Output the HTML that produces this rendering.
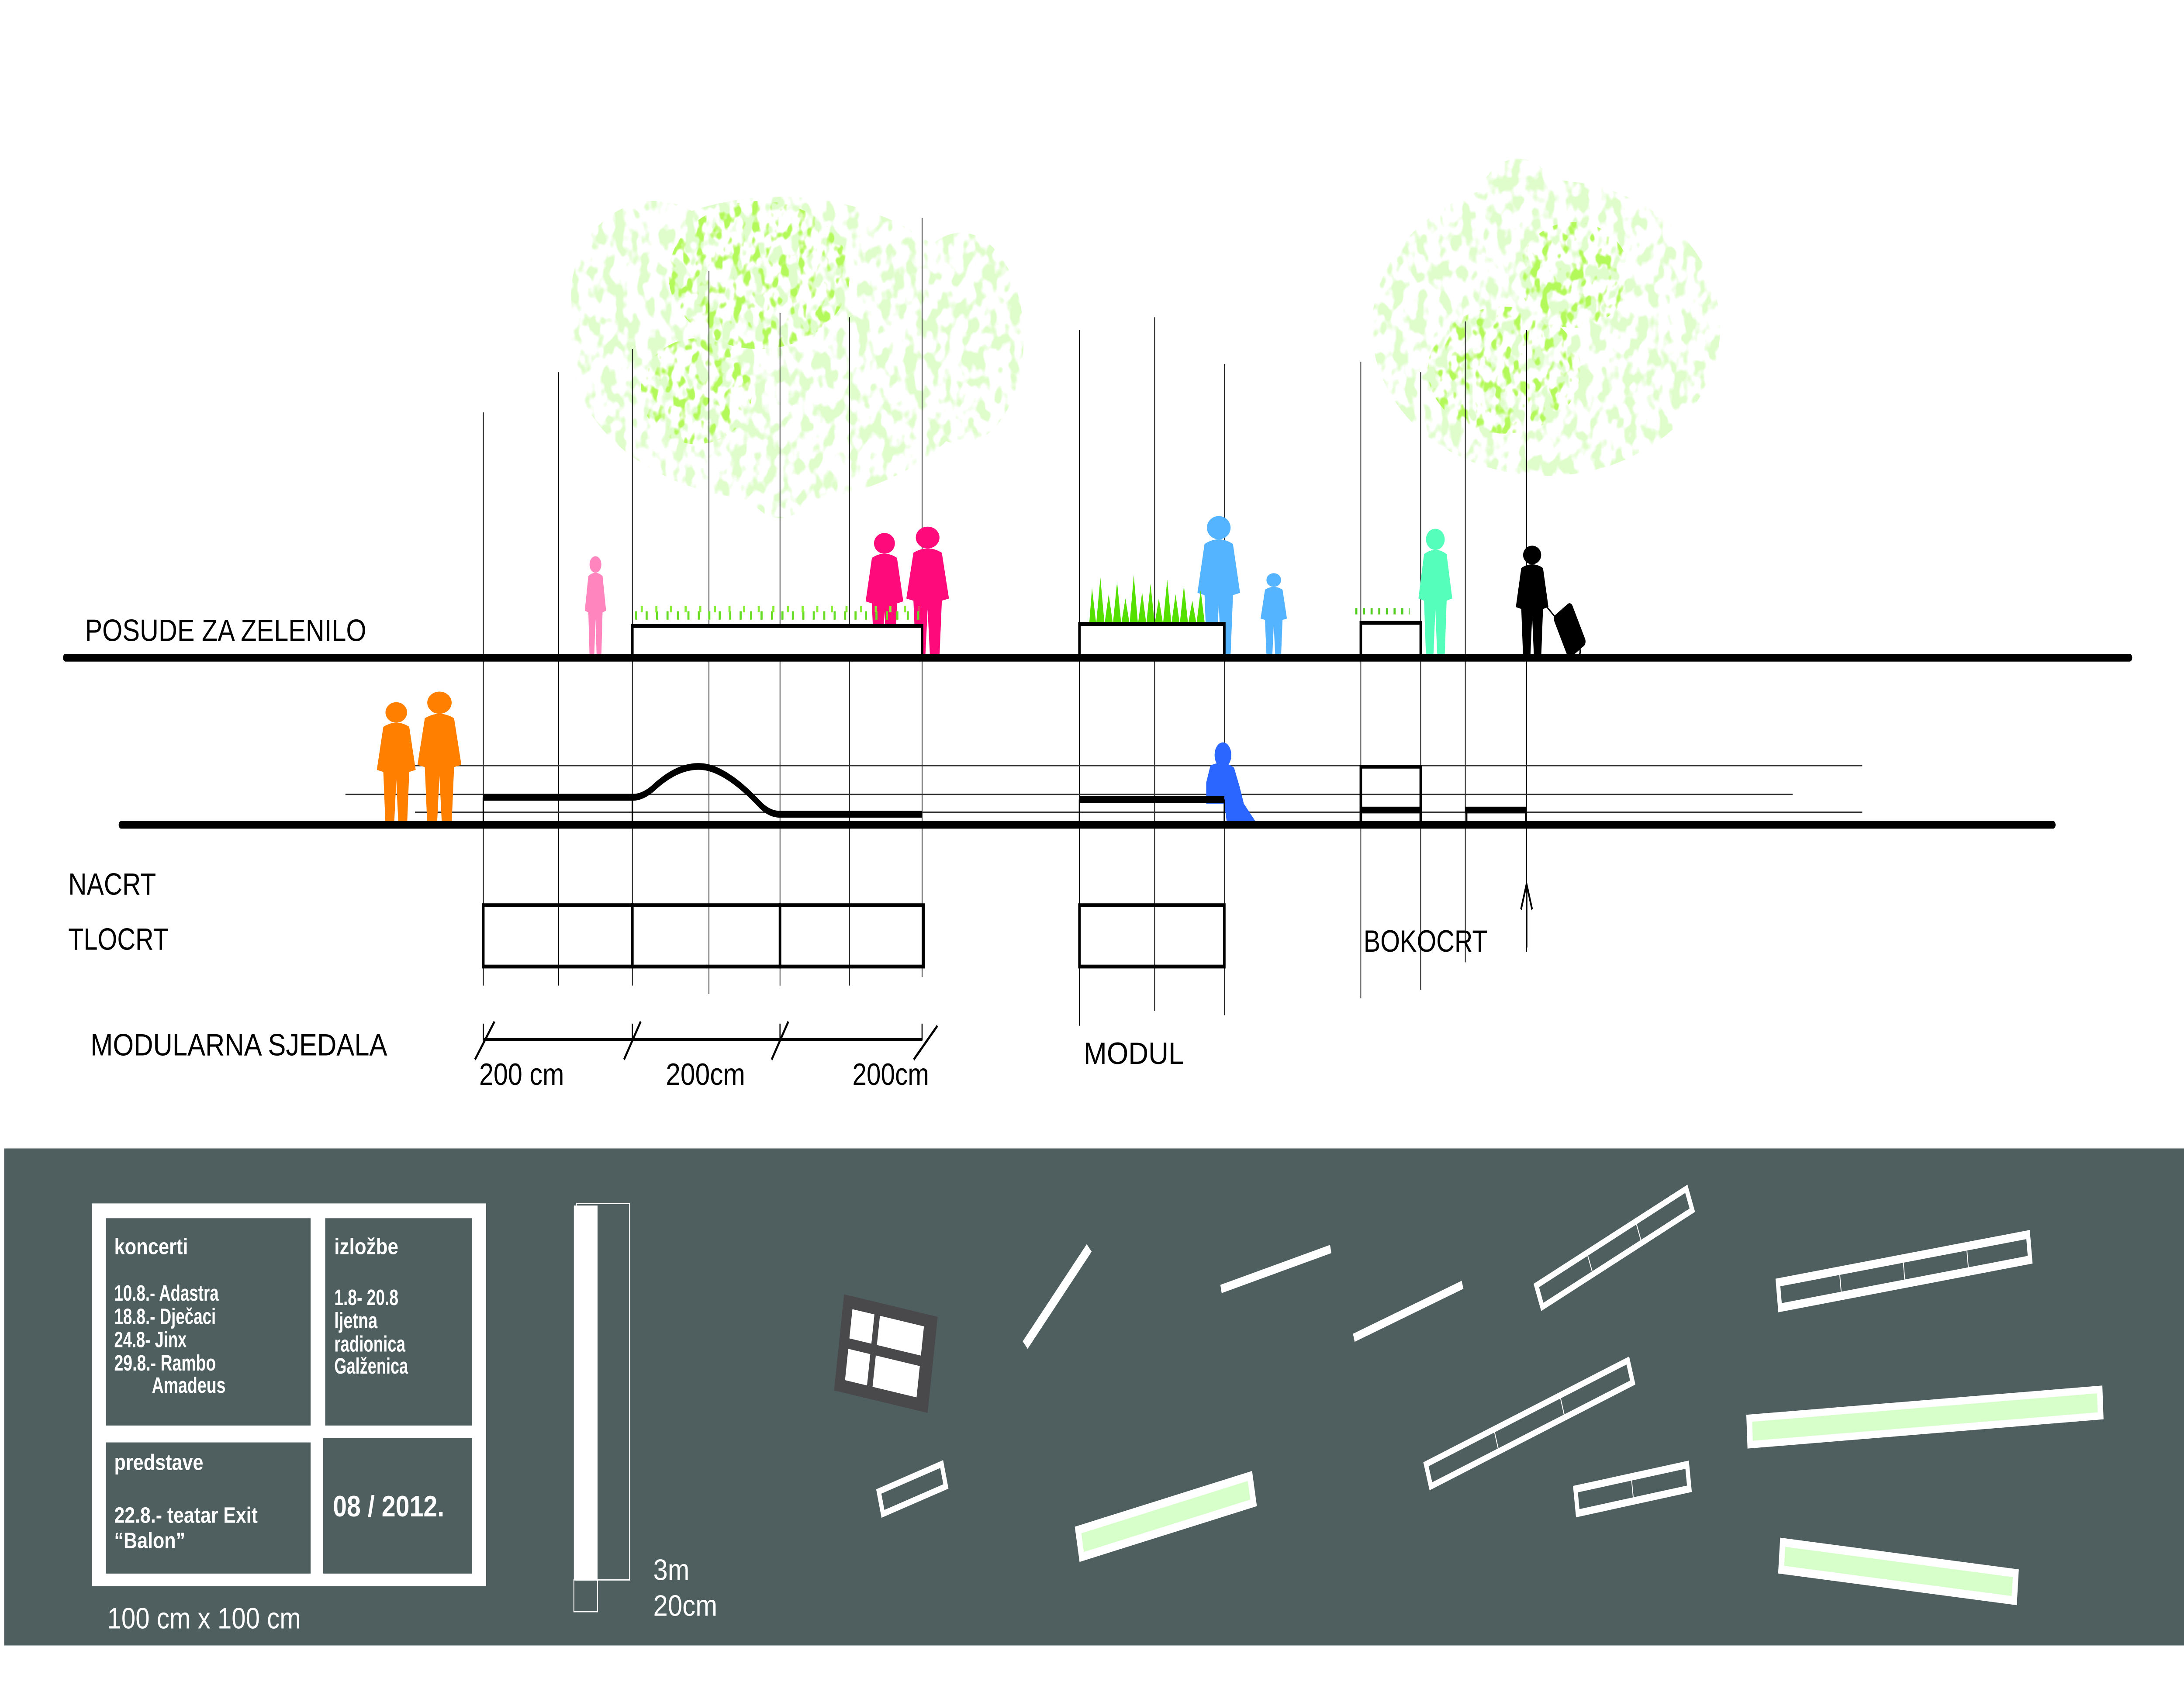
<!DOCTYPE html>
<html><head><meta charset="utf-8"><style>
html,body{margin:0;padding:0;background:#fff;width:100%;height:100%;overflow:hidden;}
svg{display:block;width:100vw;height:100vh;}
text{font-family:"Liberation Sans Narrow","Liberation Sans",sans-serif;}
</style></head><body>
<svg viewBox="0 0 1568 800" preserveAspectRatio="none" xmlns="http://www.w3.org/2000/svg">
<defs>
<filter id="leafL" x="-5%" y="-5%" width="110%" height="110%">
<feTurbulence type="fractalNoise" baseFrequency="0.12" numOctaves="2" seed="4" result="n"/>
<feColorMatrix in="n" type="matrix" values="0 0 0 0 0.74  0 0 0 0 0.98  0 0 0 0 0.6  9 0 0 0 -4.5" result="m"/>
<feComposite in="m" in2="SourceGraphic" operator="in"/>
</filter>
<filter id="leafD" x="-5%" y="-5%" width="110%" height="110%">
<feTurbulence type="fractalNoise" baseFrequency="0.15" numOctaves="2" seed="9" result="n"/>
<feColorMatrix in="n" type="matrix" values="0 0 0 0 0.45  0 0 0 0 0.95  0 0 0 0 0.1  8 0 0 0 -4.3" result="m"/>
<feComposite in="m" in2="SourceGraphic" operator="in"/>
</filter>
<g id="adult"><circle cx="10" cy="5" r="5"/><path d="M4,12 Q10,8 16,12 L19,33 L16,34 L15,60 L11,60 L10,38 L9,60 L5,60 L4,34 L1,33 Z"/></g>
</defs>

<g filter="url(#leafL)" fill="#000">
<ellipse cx="560" cy="165" rx="150" ry="72"/>
<ellipse cx="470" cy="140" rx="60" ry="45"/>
<ellipse cx="690" cy="160" rx="45" ry="50"/>
<ellipse cx="560" cy="215" rx="30" ry="30"/>
<ellipse cx="1110" cy="155" rx="125" ry="70"/>
<ellipse cx="1090" cy="100" rx="30" ry="25"/>
</g>
<g filter="url(#leafD)" fill="#000">
<ellipse cx="545" cy="130" rx="65" ry="35"/>
<ellipse cx="500" cy="185" rx="40" ry="25"/>
<ellipse cx="1080" cy="175" rx="55" ry="30"/>
<ellipse cx="1130" cy="130" rx="40" ry="25"/>
</g>

<g stroke="#000" stroke-width="0.55">
<line x1="347" y1="195" x2="347" y2="466"/>
<line x1="401" y1="176" x2="401" y2="466"/>
<line x1="454" y1="165" x2="454" y2="466"/>
<line x1="509" y1="128" x2="509" y2="470"/>
<line x1="560" y1="148" x2="560" y2="466"/>
<line x1="610" y1="150" x2="610" y2="466"/>
<line x1="662" y1="103" x2="662" y2="462"/>
<line x1="775" y1="156" x2="775" y2="485"/>
<line x1="829" y1="150" x2="829" y2="478"/>
<line x1="879" y1="172" x2="879" y2="480"/>
<line x1="977" y1="171" x2="977" y2="472"/>
<line x1="1020" y1="176" x2="1020" y2="468"/>
<line x1="1052" y1="152" x2="1052" y2="455"/>
<line x1="1096" y1="156" x2="1096" y2="450"/>
</g>
<g stroke="#333" stroke-width="0.6">
<line x1="298" y1="362" x2="1337" y2="362"/>
<line x1="248" y1="375.6" x2="1287" y2="375.6"/>
<line x1="298" y1="384" x2="1337" y2="384"/>
</g>

<use href="#adult" fill="#ff85bf" transform="translate(419,263) scale(0.85,0.78)"/>
<use href="#adult" fill="#ff0a7a" transform="translate(620,252) scale(1.5,0.98)"/>
<use href="#adult" fill="#ff0a7a" transform="translate(649,249) scale(1.7,1.03)"/>
<use href="#adult" fill="#ff8000" transform="translate(269,332) scale(1.55,0.97)"/>
<use href="#adult" fill="#ff8000" transform="translate(298,327) scale(1.75,1.05)"/>
<use href="#adult" fill="#55b4ff" transform="translate(858,244) scale(1.7,1.1)"/>
<use href="#adult" fill="#55b4ff" transform="translate(904,271) scale(1.05,0.65)"/>
<use href="#adult" fill="#55ffbb" transform="translate(1017,250) scale(1.35,1)"/>
<use href="#adult" fill="#000" transform="translate(1087,258) scale(1.3,0.88)"/>
<g fill="#000" stroke="#000">
<rect x="1120" y="287" width="14" height="22" rx="2" transform="rotate(-30 1127 298)"/>
<line x1="1108" y1="285" x2="1122" y2="296" stroke-width="0.8"/>
<circle cx="1132" cy="308" r="2.5" fill="none" stroke-width="1"/>
</g>
<g fill="#2a66ff">
<circle cx="878" cy="357" r="6"/>
<path d="M869,362 Q878,359 886,363 L890,372 L893,380 L901,388 L900,390 L881,390 L879,380 L866,380 L866,370 Z"/>
</g>

<path fill="#55e000" d="M782,295 L784,278 L787,295 L790,273 L793,295 L796,281 L799,295 L802,275 L805,295 L808,283 L811,295 L814,272 L817,295 L820,280 L823,295 L826,276 L829,295 L832,283 L835,295 L838,274 L841,295 L844,281 L847,295 L850,277 L853,295 L856,284 L859,295 L862,279 L865,295 Z"/>
<line x1="456" y1="291" x2="660" y2="291" stroke="#66dd22" stroke-width="4" stroke-dasharray="1.5 6"/>
<line x1="460" y1="288" x2="660" y2="288" stroke="#88ee33" stroke-width="3" stroke-dasharray="1.5 9"/>
<line x1="973" y1="289" x2="1012" y2="289" stroke="#55cc22" stroke-width="3" stroke-dasharray="1.5 4"/>

<g fill="#fff" stroke="#000" stroke-width="1.8">
<rect x="454" y="296" width="208" height="15"/>
<rect x="775" y="295" width="104" height="16"/>
<rect x="977" y="294.5" width="43" height="16"/>
</g>

<g stroke="#000" stroke-width="3.6" stroke-linecap="round">
<line x1="47" y1="311" x2="1529" y2="311"/>
<line x1="87" y1="390" x2="1474" y2="390"/>
</g>

<g fill="none" stroke="#000">
<path d="M347,377 L454,377 Q462,377 470,372 Q490,360 509,363 Q525,366 545,380 Q552,385 560,385 L662,385" stroke-width="3.2"/>
<line x1="347" y1="377" x2="347" y2="390" stroke-width="1"/>
<line x1="454" y1="377" x2="454" y2="390" stroke-width="1"/>
<line x1="775" y1="378" x2="879" y2="378" stroke-width="3.2"/>
<line x1="775" y1="378" x2="775" y2="390" stroke-width="1"/>
<line x1="879" y1="378" x2="879" y2="390" stroke-width="1"/>
<rect x="977" y="362.5" width="43" height="27" stroke-width="1.8"/>
<line x1="977" y1="383" x2="1020" y2="383" stroke-width="3.2"/>
<line x1="1052" y1="383" x2="1096" y2="383" stroke-width="3.2"/>
<line x1="1053" y1="383" x2="1053" y2="390" stroke-width="1"/>
<line x1="1095.5" y1="383" x2="1095.5" y2="390" stroke-width="1"/>
</g>

<g fill="none" stroke="#000" stroke-width="1.8">
<rect x="347" y="428" width="107" height="29"/>
<rect x="454" y="428" width="106" height="29"/>
<rect x="560" y="428" width="103" height="29"/>
<rect x="775" y="428" width="104" height="29"/>
</g>
<g stroke="#000" stroke-width="1.3">
<line x1="347" y1="491.5" x2="662" y2="491.5"/>
<line x1="341" y1="501" x2="355" y2="483"/>
<line x1="448" y1="501" x2="460" y2="483"/>
<line x1="554" y1="501" x2="566" y2="483"/>
<line x1="656" y1="501" x2="673" y2="485"/>
<line x1="347" y1="484" x2="347" y2="492" stroke-width="0.8"/>
<line x1="454" y1="484" x2="454" y2="492" stroke-width="0.8"/>
<line x1="560" y1="484" x2="560" y2="492" stroke-width="0.8"/>
<line x1="662" y1="484" x2="662" y2="492" stroke-width="0.8"/>
</g>
<line x1="1096" y1="448" x2="1096" y2="420" stroke="#000" stroke-width="1.2"/>
<path d="M1092,430 L1096,418 L1100,430" fill="none" stroke="#000" stroke-width="1.2"/>

<g fill="#000" font-size="14.5">
<text x="61" y="303" textLength="202" lengthAdjust="spacingAndGlyphs">POSUDE ZA ZELENILO</text>
<text x="49" y="423" textLength="63" lengthAdjust="spacingAndGlyphs">NACRT</text>
<text x="49" y="449" textLength="72" lengthAdjust="spacingAndGlyphs">TLOCRT</text>
<text x="65" y="499" textLength="213" lengthAdjust="spacingAndGlyphs">MODULARNA SJEDALA</text>
<text x="778" y="503" textLength="72" lengthAdjust="spacingAndGlyphs">MODUL</text>
<text x="979" y="450" textLength="89" lengthAdjust="spacingAndGlyphs">BOKOCRT</text>
<text x="344" y="513" textLength="61" lengthAdjust="spacingAndGlyphs">200 cm</text>
<text x="478" y="513" textLength="57" lengthAdjust="spacingAndGlyphs">200cm</text>
<text x="612" y="513" textLength="55" lengthAdjust="spacingAndGlyphs">200cm</text>
</g>

<rect x="3" y="543" width="1565" height="235" fill="#4f5e5e"/>
<rect x="66" y="569" width="283" height="181" fill="#fff"/>
<g fill="#4f5e5e">
<rect x="76" y="576" width="147" height="98"/>
<rect x="233.5" y="576" width="105.5" height="98"/>
<rect x="76" y="682" width="147" height="62"/>
<rect x="232" y="680" width="107" height="64"/>
</g>
<g fill="#fff" font-weight="bold" font-size="10.5">
<text x="82" y="593" textLength="53" lengthAdjust="spacingAndGlyphs">koncerti</text>
<text x="82" y="615" textLength="75" lengthAdjust="spacingAndGlyphs">10.8.- Adastra</text>
<text x="82" y="626" textLength="73" lengthAdjust="spacingAndGlyphs">18.8.- Dječaci</text>
<text x="82" y="637" textLength="52" lengthAdjust="spacingAndGlyphs">24.8- Jinx</text>
<text x="82" y="648" textLength="73" lengthAdjust="spacingAndGlyphs">29.8.- Rambo</text>
<text x="109" y="658.5" textLength="53" lengthAdjust="spacingAndGlyphs">Amadeus</text>
<text x="240" y="593" textLength="46" lengthAdjust="spacingAndGlyphs">izložbe</text>
<text x="240" y="617" textLength="46" lengthAdjust="spacingAndGlyphs">1.8- 20.8</text>
<text x="240" y="628" textLength="31" lengthAdjust="spacingAndGlyphs">ljetna</text>
<text x="240" y="639" textLength="51" lengthAdjust="spacingAndGlyphs">radionica</text>
<text x="240" y="649.5" textLength="53" lengthAdjust="spacingAndGlyphs">Galženica</text>
<text x="82" y="695" textLength="64" lengthAdjust="spacingAndGlyphs">predstave</text>
<text x="82" y="720" textLength="103" lengthAdjust="spacingAndGlyphs">22.8.- teatar Exit</text>
<text x="82" y="732" textLength="51" lengthAdjust="spacingAndGlyphs">“Balon”</text>
<text x="239" y="717" font-size="14" textLength="80" lengthAdjust="spacingAndGlyphs">08 / 2012.</text>
</g>
<g fill="#fff" font-size="14">
<text x="77" y="770" textLength="139" lengthAdjust="spacingAndGlyphs">100 cm x 100 cm</text>
<text x="469" y="747" textLength="26" lengthAdjust="spacingAndGlyphs">3m</text>
<text x="469" y="764" textLength="46" lengthAdjust="spacingAndGlyphs">20cm</text>
</g>
<rect x="412" y="570" width="17" height="177" fill="#fff"/>
<rect x="414" y="569" width="38" height="178" fill="none" stroke="#fff" stroke-width="0.6"/>
<rect x="412" y="747" width="17" height="15" fill="none" stroke="#fff" stroke-width="0.6"/>

<g transform="translate(636,640) rotate(9)">
<rect x="-34" y="-23" width="68" height="46" fill="#49494b"/>
<rect x="-27" y="-17" width="16" height="14" fill="#fff"/>
<rect x="-7" y="-17" width="32" height="14" fill="#fff"/>
<rect x="-27" y="2" width="16" height="15" fill="#fff"/>
<rect x="-7" y="2" width="32" height="15" fill="#fff"/>
</g>
<g fill="#fff">
<rect x="-32.5" y="-2.5" width="65" height="5" transform="translate(759,613) rotate(-45)"/>
<rect x="-40.5" y="-2" width="81" height="4" transform="translate(916,600) rotate(-13.5)"/>
<rect x="-41" y="-2" width="82" height="4" transform="translate(1011,620) rotate(-17.8)"/>
</g>
<g transform="translate(1159,590) rotate(-23)">
<rect x="-60" y="-7" width="120" height="14" fill="#fff"/><rect x="-57" y="-4" width="114" height="8" fill="#4f5e5e"/>
<line x1="-19" y1="-4" x2="-19" y2="4" stroke="#fff" stroke-width="0.6"/><line x1="19" y1="-4" x2="19" y2="4" stroke="#fff" stroke-width="0.6"/>
</g>
<g transform="translate(1367,601) rotate(-7.2)">
<rect x="-92" y="-8" width="184" height="16" fill="#fff"/><rect x="-89" y="-4" width="178" height="8" fill="#4f5e5e"/>
<line x1="-46" y1="-4" x2="-46" y2="4" stroke="#fff" stroke-width="0.6"/><line x1="0" y1="-4" x2="0" y2="4" stroke="#fff" stroke-width="0.6"/><line x1="46" y1="-4" x2="46" y2="4" stroke="#fff" stroke-width="0.6"/>
</g>
<g transform="translate(1098,673) rotate(-18.7)">
<rect x="-78" y="-7" width="156" height="14" fill="#fff"/><rect x="-75" y="-4" width="150" height="8" fill="#4f5e5e"/>
<line x1="-25" y1="-4" x2="-25" y2="4" stroke="#fff" stroke-width="0.6"/><line x1="25" y1="-4" x2="25" y2="4" stroke="#fff" stroke-width="0.6"/>
</g>
<g transform="translate(1172,704) rotate(-8.2)">
<rect x="-42" y="-7.5" width="84" height="15" fill="#fff"/><rect x="-39" y="-4" width="78" height="8" fill="#4f5e5e"/>
<line x1="0" y1="-4" x2="0" y2="4" stroke="#fff" stroke-width="0.6"/>
</g>
<g transform="translate(655,704) rotate(-16)">
<rect x="-25" y="-7" width="50" height="14" fill="#fff"/><rect x="-22" y="-4" width="44" height="8" fill="#4f5e5e"/>
</g>
<g transform="translate(837,717) rotate(-11.7)">
<rect x="-65" y="-8.5" width="130" height="17" fill="#fff"/><rect x="-61" y="-4.5" width="122" height="9" fill="#d6ffca"/>
</g>
<g transform="translate(1382,670) rotate(-3.1)">
<rect x="-128" y="-8" width="256" height="16" fill="#fff"/><rect x="-124" y="-4.5" width="248" height="9" fill="#d6ffca"/>
</g>
<g transform="translate(1363,743) rotate(5)">
<rect x="-86" y="-8.5" width="172" height="17" fill="#fff"/><rect x="-82" y="-4.5" width="164" height="9" fill="#d6ffca"/>
</g>
</svg>
</body></html>
